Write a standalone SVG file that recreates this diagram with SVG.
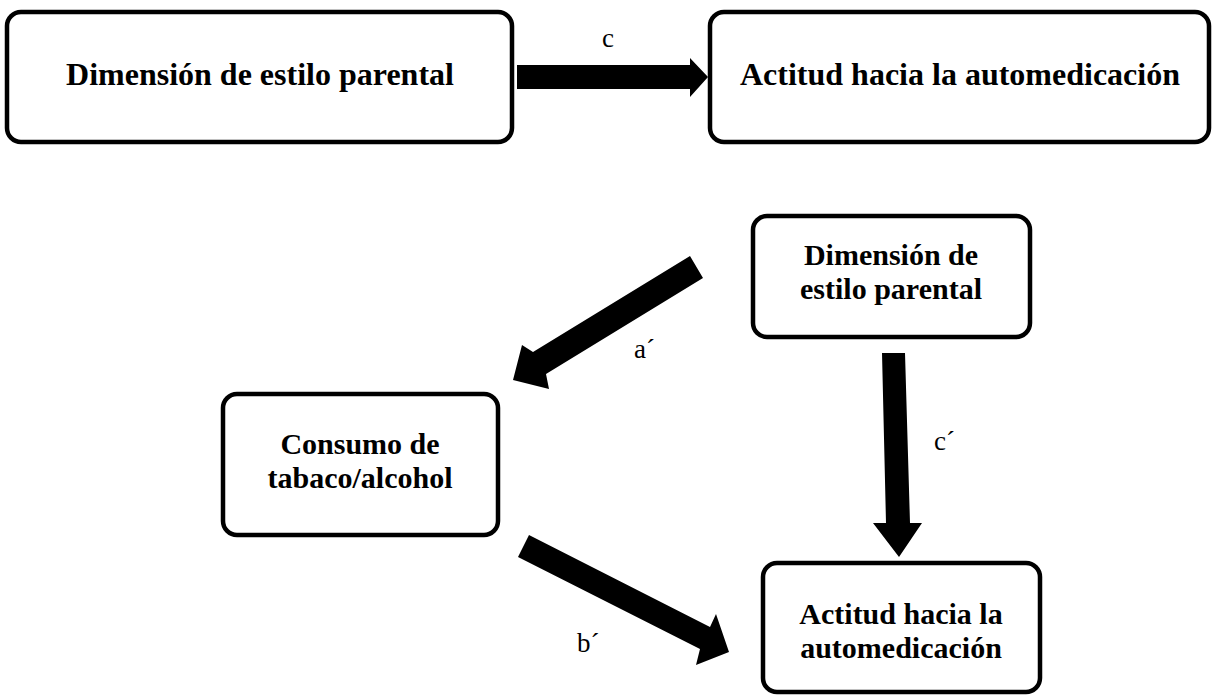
<svg xmlns="http://www.w3.org/2000/svg" width="1212" height="696" viewBox="0 0 1212 696">
<style>
.box{fill:#fff;stroke:#000;stroke-width:4.5}
.t{font-family:"Liberation Serif","Times New Roman",serif;font-weight:bold;font-size:32px;fill:#000;text-anchor:middle}
.t2{font-family:"Liberation Serif","Times New Roman",serif;font-weight:bold;font-size:30px;fill:#000;text-anchor:middle}
.lbl{font-family:"Liberation Serif","Times New Roman",serif;font-size:27px;fill:#000}
.arr{fill:#000}
</style>
<rect width="1212" height="696" fill="#fff"/>
<g id="connectors">
<polygon class="arr" points="517,65 690,65 690,58 708,77 690,97 690,89 517,89"/>
<text class="lbl" x="602" y="47">c</text>
<polygon class="arr" points="690,256 703,278 546,374 549,389 513,380 522,345 533,352"/>
<text class="lbl" x="634" y="358">a´</text>
<polygon class="arr" points="882,353 905,353 910,523 922,523 899,557 873,523 886,523"/>
<text class="lbl" x="934" y="450">c´</text>
<polygon class="arr" points="529,535 710,627 716,614 729,652 696,665 700,649 518,557"/>
<text class="lbl" x="577" y="652">b´</text>
</g>
<g id="node-estilo-top">
<rect class="box" x="7" y="12" width="505" height="130" rx="14"/>
<text class="t" x="260" y="85">Dimensión de estilo parental</text>
</g>
<g id="node-actitud-top">
<rect class="box" x="710" y="12" width="499" height="130" rx="14"/>
<text class="t" x="960" y="85">Actitud hacia la automedicación</text>
</g>
<g id="node-estilo">
<rect class="box" x="753" y="216" width="277" height="121" rx="14"/>
<text class="t2" x="891" y="265">Dimensión de</text>
<text class="t2" x="891" y="299">estilo parental</text>
</g>
<g id="node-consumo">
<rect class="box" x="223" y="394" width="275" height="141" rx="14"/>
<text class="t2" x="360" y="454">Consumo de</text>
<text class="t2" x="360" y="488">tabaco/alcohol</text>
</g>
<g id="node-actitud">
<rect class="box" x="763" y="563" width="277" height="129" rx="14"/>
<text class="t2" x="901" y="624">Actitud hacia la</text>
<text class="t2" x="901" y="658">automedicación</text>
</g>
</svg>
